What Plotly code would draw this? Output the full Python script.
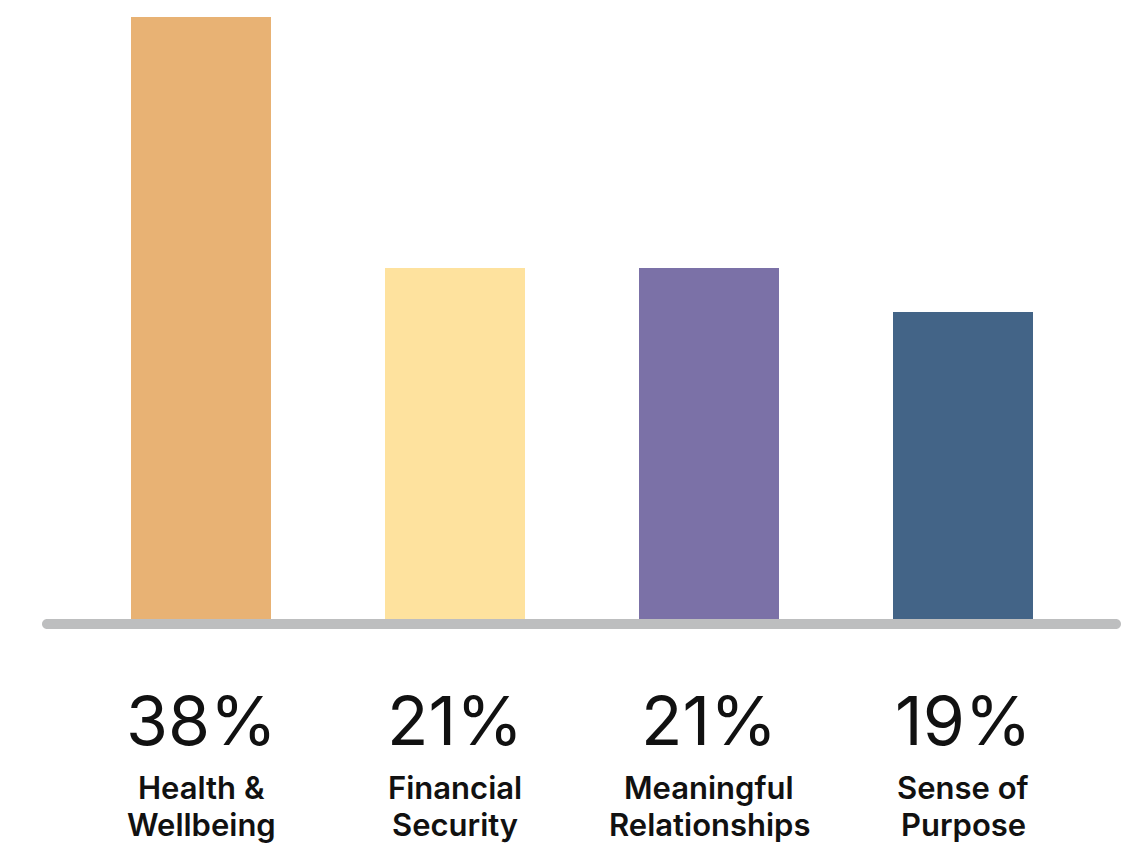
import plotly.graph_objects as go

# ---- data ----
categories = ["Health &<br>Wellbeing", "Financial<br>Security", "Meaningful<br>Relationships", "Sense of<br>Purpose"]
bar_heights = [38, 22.2, 22.2, 19.4]          # bar heights as drawn in the picture
pct_labels = ["38%", "21%", "21%", "19%"]      # printed percentages
colors = ["#E8B274", "#FEE29E", "#7B71A7", "#436487"]

W, H = 1127, 844
PLOT_BOTTOM = 620  # pixel y of plot-area bottom

def px_x(X):
    return X / W

def px_y(Y):
    return (PLOT_BOTTOM - Y) / PLOT_BOTTOM

x_idx = list(range(len(categories)))

fig = go.Figure()
fig.add_trace(go.Bar(
    x=x_idx, y=bar_heights, width=0.555,
    marker=dict(color=colors, line=dict(width=0)),
    hoverinfo="skip", showlegend=False,
))

# baseline with rounded caps
x0, x1, yt, yb = 42, 1121, 619, 629
r = (yb - yt) / 2
ym = (yt + yb) / 2
k = 0.5523 * r
def P(X, Y):
    return f"{px_x(X):.6f},{px_y(Y):.6f}"
path = (
    f"M {P(x0 + r, yt)} L {P(x1 - r, yt)} "
    f"C {P(x1 - r + k, yt)} {P(x1, ym - k)} {P(x1, ym)} "
    f"C {P(x1, ym + k)} {P(x1 - r + k, yb)} {P(x1 - r, yb)} "
    f"L {P(x0 + r, yb)} "
    f"C {P(x0 + r - k, yb)} {P(x0, ym + k)} {P(x0, ym)} "
    f"C {P(x0, ym - k)} {P(x0 + r - k, yt)} {P(x0 + r, yt)} Z"
)
fig.add_shape(type="path", path=path, xref="paper", yref="paper",
              fillcolor="#BDBEBF", line=dict(width=0), layer="above")

line_centers = [787, 824]
for i, (pct, cat) in enumerate(zip(pct_labels, categories)):
    fig.add_annotation(x=i, xref="x", y=px_y(720), yref="paper", yanchor="middle",
                       text=pct, showarrow=False,
                       font=dict(family="Inter", size=68, color="#111111", weight=400))
    for j, line in enumerate(cat.split("<br>")):
        fig.add_annotation(x=i, xref="x", y=px_y(line_centers[j]), yref="paper", yanchor="middle",
                           text=line, showarrow=False,
                           font=dict(family="Inter", size=31, color="#111111", weight=600))

x_lo = -201 / 254
x_hi = x_lo + W / 254
fig.update_layout(
    width=W, height=H,
    margin=dict(l=0, r=0, t=0, b=H - PLOT_BOTTOM, pad=0),
    paper_bgcolor="white", plot_bgcolor="white",
    xaxis=dict(range=[x_lo, x_hi], visible=False, fixedrange=True),
    yaxis=dict(range=[0, 39.07], visible=False, fixedrange=True),
    bargap=0,
)

fig.write_html("out.html", config={"displayModeBar": False})
